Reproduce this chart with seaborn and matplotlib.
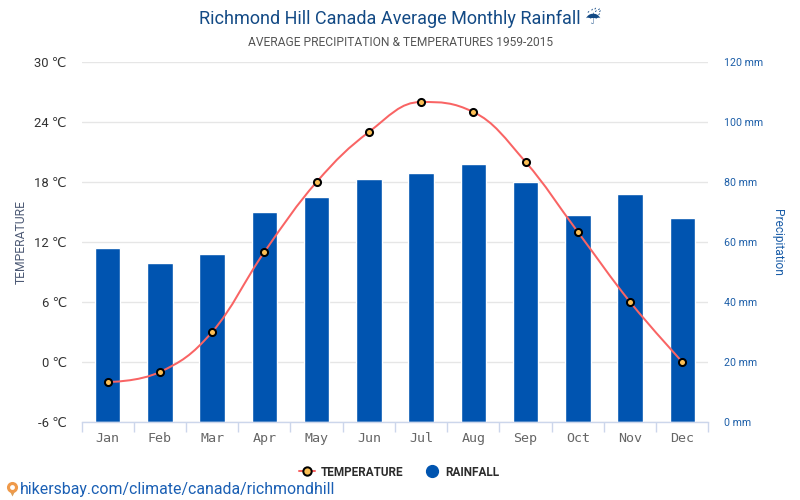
import numpy as np
import pandas as pd
import matplotlib
matplotlib.use("Agg")
import matplotlib.pyplot as plt
from matplotlib.lines import Line2D
from matplotlib.path import Path
from matplotlib.patches import PathPatch
import seaborn as sns

months = ["Jan", "Feb", "Mar", "Apr", "May", "Jun", "Jul", "Aug", "Sep", "Oct", "Nov", "Dec"]
temperature = [-2, -1, 3, 11, 18, 23, 26, 25, 20, 13, 6, 0]
rainfall = [58, 53, 56, 70, 75, 81, 83, 86, 80, 69, 76, 68]
temp_ticks = [-6, 0, 6, 12, 18, 24, 30]
rain_ticks = [0, 20, 40, 60, 80, 100, 120]

sns.set_theme(style="white")
plt.rcParams["font.family"] = ["Roboto", "DejaVu Sans"]

BLUE = "#0054b0"
TITLE = "#134a85"
W, H = 800, 500


def fx(x):
    return x / W


def fy(y):
    return 1 - y / H


fig = plt.figure(figsize=(8, 5), dpi=100, facecolor="white")
ax2 = fig.add_axes([fx(81.5), fy(422), (708.5 - 81.5) / W, 360 / H])
ax = ax2.twinx()

df = pd.DataFrame({"month": months, "rain": rainfall, "temp": temperature})
sns.barplot(data=df, x="month", y="rain", ax=ax2, color=BLUE, width=0.49, saturation=1, zorder=2)
ax2.set_xlim(-0.5, 11.5)
ax2.set_ylim(0, 120)
ax.set_ylim(-6, 30)
ax.set_zorder(ax2.get_zorder() + 1)
ax.patch.set_visible(False)


def spline_path(xs, ys, smoothing=1.5):
    """Smooth path through the points: cubic Bezier segments, one per pair of months."""
    n = len(xs)
    left, right = [], []
    for i in range(n):
        if i == 0 or i == n - 1:
            left.append((xs[i], ys[i]))
            right.append((xs[i], ys[i]))
            continue
        d = smoothing + 1
        lx = (smoothing * xs[i] + xs[i - 1]) / d
        ly = (smoothing * ys[i] + ys[i - 1]) / d
        rx = (smoothing * xs[i] + xs[i + 1]) / d
        ry = (smoothing * ys[i] + ys[i + 1]) / d
        c = (ry - ly) * (rx - xs[i]) / (rx - lx) + ys[i] - ry
        ly += c
        ry += c
        if ly > ys[i - 1] and ly > ys[i]:
            ly = max(ys[i - 1], ys[i])
            ry = 2 * ys[i] - ly
        elif ly < ys[i - 1] and ly < ys[i]:
            ly = min(ys[i - 1], ys[i])
            ry = 2 * ys[i] - ly
        if ry > ys[i + 1] and ry > ys[i]:
            ry = max(ys[i + 1], ys[i])
            ly = 2 * ys[i] - ry
        elif ry < ys[i + 1] and ry < ys[i]:
            ry = min(ys[i + 1], ys[i])
            ly = 2 * ys[i] - ry
        left.append((lx, ly))
        right.append((rx, ry))
    verts = [(xs[0], ys[0])]
    codes = [Path.MOVETO]
    for i in range(1, n):
        verts += [right[i - 1], left[i], (xs[i], ys[i])]
        codes += [Path.CURVE4] * 3
    return Path(verts, codes)


xpos = list(range(len(months)))
LINE = "#f96464"
MARK = "#fbbf55"
ax.add_patch(PathPatch(spline_path(xpos, temperature), fc="none", ec=LINE, lw=1.45, zorder=3))
sns.scatterplot(x=xpos, y=temperature, ax=ax, s=26, color=MARK, edgecolor="black",
                linewidth=1.45, zorder=4, legend=False, clip_on=False)
ax.set_xlim(-0.5, 11.5)

for s in ["top", "left", "right"]:
    ax.spines[s].set_visible(False)
    ax2.spines[s].set_visible(False)
ax.spines["bottom"].set_visible(False)
ax2.spines["bottom"].set_color("#ccd6eb")
ax2.spines["bottom"].set_linewidth(1)

ax2.set_yticks(rain_ticks, [f"{v} mm" for v in rain_ticks])
ax.set_yticks(temp_ticks, [f"{v} ℃" for v in temp_ticks])
ax.yaxis.tick_left()
ax2.yaxis.tick_right()
ax.tick_params(axis="y", length=0, pad=10.6, labelsize=9.4, labelcolor="#333333")
ax2.tick_params(axis="y", length=0, pad=11.4, labelsize=7.7, labelcolor="#1c5ea8")
ax2.grid(axis="y", color="#e6e6e6", lw=1)
ax2.set_axisbelow(True)
ax2.set_xlabel("")
ax2.set_ylabel("")
ax.set_ylabel("")

ax.set_xticks([])
ax2.set_xticks(xpos, months)
ax2.set_xticks(np.arange(-0.5, 12), minor=True)
ax2.tick_params(axis="x", which="major", length=0, pad=7.5, labelsize=9.6, labelcolor="#666666",
                labelfontfamily="DejaVu Sans Mono")
ax2.tick_params(axis="x", which="minor", length=7.2, width=1, color="#ccd6eb", bottom=True)

fig.text(fx(21), fy(241.5), "TEMPERATURE", rotation=90, ha="center", va="center", fontsize=8.7, color="#4d5a75")
fig.text(fx(777.5), fy(242), "Precipitation", rotation=270, ha="center", va="center", fontsize=8.6, color="#1c5ea8")
fig.text(fx(400), fy(17.5), "Richmond Hill Canada Average Monthly Rainfall ☔", ha="center", va="center",
         fontsize=13, color=TITLE)
fig.text(fx(400.5), fy(42), "AVERAGE PRECIPITATION & TEMPERATURES 1959-2015", ha="center", va="center",
         fontsize=8.65, color="#555555")

handles = [
    Line2D([], [], color=LINE, lw=1.45, marker="o", ms=6, mfc=MARK, mec="black", mew=1.45, label="TEMPERATURE"),
    Line2D([], [], color="none", marker="o", ms=8.5, mfc=BLUE, mec=BLUE, label="RAINFALL"),
]
fig.legend(handles=handles, loc="center", bbox_to_anchor=(fx(399.5), fy(472)), ncols=2, frameon=False,
           handlelength=1.3, handletextpad=0.5, columnspacing=1.77, borderpad=0,
           prop={"family": "Roboto", "size": 8.5, "weight": "bold"}, labelcolor="#2b2b2b")

fig.text(fx(20), fy(489.5), "hikersbay.com/climate/canada/richmondhill", ha="left", va="center",
         fontsize=11.45, color="#1a5fb4")
fig.add_artist(Line2D([fx(12)], [fy(491)], marker="v", ms=7, mfc="#d9a05b", mec="none", transform=fig.transFigure))
fig.add_artist(Line2D([fx(12)], [fy(487)], marker="o", ms=8, mfc="#ef9a4a", mec="none", transform=fig.transFigure))
fig.add_artist(Line2D([fx(12)], [fy(487)], marker="o", ms=3.5, mfc="white", mec="none", transform=fig.transFigure))

fig.savefig("out.png", dpi=100)
